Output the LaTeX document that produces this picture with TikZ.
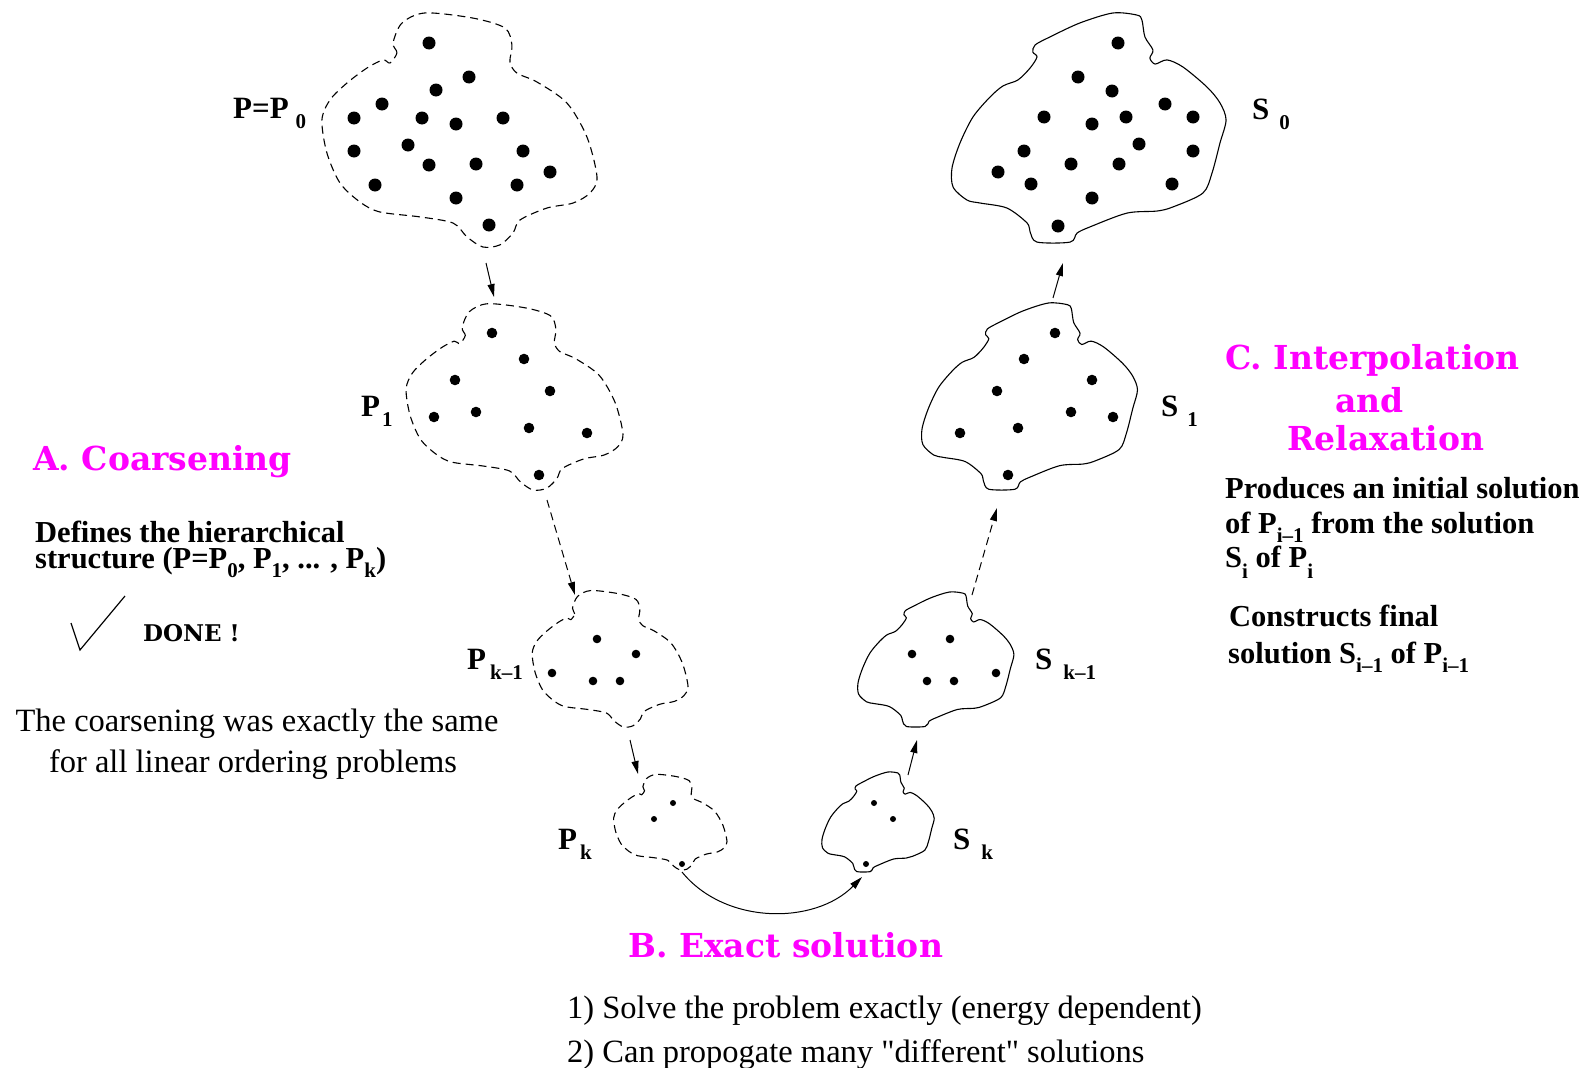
\documentclass[tikz,border=0pt]{standalone}
\usepackage{fontspec}
\setmainfont{Liberation Serif}
\newfontfamily\headfamily{DejaVu Serif}
\usetikzlibrary{arrows.meta}
\definecolor{headmag}{RGB}{255,0,255}

% normalised outline of a problem cluster (unit box, y pointing down)
\newcommand\pshape{plot[smooth cycle, tension=0.5] coordinates {
  (0.258,0.217) (0.283,0.174) (0.269,0.132) (0.301,0.047) (0.384,0.004)
  (0.556,0.026) (0.670,0.068) (0.695,0.140) (0.688,0.213) (0.713,0.260)
  (0.785,0.298) (0.892,0.387) (0.964,0.532) (1.0,0.702) (0.975,0.770)
  (0.914,0.813) (0.821,0.834) (0.724,0.885) (0.699,0.940) (0.652,0.991)
  (0.591,1.0) (0.534,0.957) (0.484,0.898) (0.366,0.872) (0.222,0.851)
  (0.151,0.809) (0.079,0.728) (0.032,0.600) (0.014,0.460) (0.043,0.374)
  (0.104,0.302) (0.176,0.238) (0.233,0.204)}}
% normalised outline of a solution cluster
\newcommand\sshape{plot[smooth cycle, tension=0.5] coordinates {
  (0.0,0.674) (0.029,0.565) (0.076,0.452) (0.138,0.365) (0.185,0.317)
  (0.239,0.291) (0.283,0.239) (0.308,0.191) (0.293,0.170) (0.301,0.139)
  (0.355,0.104) (0.464,0.043) (0.583,0.0) (0.670,0.009) (0.688,0.030)
  (0.699,0.104) (0.728,0.161) (0.717,0.196) (0.736,0.222) (0.779,0.204)
  (0.837,0.235) (0.924,0.322) (0.971,0.391) (0.993,0.465) (0.971,0.565)
  (0.942,0.696) (0.909,0.783) (0.801,0.843) (0.743,0.861) (0.634,0.870)
  (0.5,0.930) (0.453,0.957) (0.428,0.996) (0.308,0.996) (0.283,0.952)
  (0.272,0.913) (0.199,0.848) (0.101,0.826) (0.054,0.813) (0.004,0.757)}}

% level label: main letter, gap, lowered index
\newcommand\lvl[3]{#1\hspace{#2pt}\raisebox{-10pt}{\fontsize{21}{21}\selectfont #3}}
% index inside running text
\newcommand\ix[2][9]{\raisebox{-#1pt}{\fontsize{21}{21}\selectfont #2}}

\begin{document}
\begin{tikzpicture}[x=1pt,y=-1pt,
  blobline/.style={line width=1.1pt, line join=round},
  dashblob/.style={blobline, dash pattern=on 8pt off 5pt},
  arr/.style={line width=1pt, -{Triangle[length=13pt,width=7pt]}},
  dasharr/.style={arr, dash pattern=on 8pt off 5pt},
  lbl/.style={anchor=base west, inner sep=0pt, font=\fontsize{31}{31}\selectfont\bfseries},
  head/.style={anchor=base west, inner sep=0pt, text=headmag, font=\headfamily\bfseries\fontsize{33}{33}\selectfont},
  boldtxt/.style={anchor=base west, inner sep=0pt, font=\fontsize{30.5}{30.5}\selectfont\bfseries},
  plaintxt/.style={inner sep=0pt, font=\fontsize{32.5}{32.5}\selectfont},
]
\useasboundingbox (0,0) rectangle (1588,1068);

% ---------- coarsening side (dashed clusters) ----------
\draw[dashblob, shift={(318,12)}, xscale=279, yscale=235] \pshape;
\draw[dashblob, shift={(403,303)}, xscale=220, yscale=187] \pshape;
\draw[dashblob, shift={(530,590)}, xscale=158, yscale=137] \pshape;
\draw[dashblob, shift={(612,774)}, xscale=115, yscale=96] \pshape;

% ---------- solution side (solid clusters) ----------
\draw[blobline, shift={(952,13)}, xscale=276, yscale=230] \sshape;
\draw[blobline, shift={(922,303)}, xscale=217, yscale=187] \sshape;
\draw[blobline, shift={(858,592)}, xscale=157, yscale=135] \sshape;
\draw[blobline, shift={(822,772)}, xscale=113, yscale=100] \sshape;

% ---------- points ----------
\foreach \p in {(429,43),(469,77),(436,90),(382,104),(354,118),(422,118),
  (456,124),(503,118),(354,151),(408,145),(429,165),(476,164),(523,151),
  (550,172),(375,185),(517,185),(456,198),(489,225),
  (1118,43),(1078,77),(1112,91),(1165,104),(1193,117),(1044,117),
  (1092,124),(1126,117),(1139,144),(1193,151),(1024,151),(1071,164),
  (1119,164),(998,172),(1031,184),(1172,184),(1092,198),(1058,226)}
  \fill \p circle[radius=6.5pt];
\foreach \p in {(492,333),(524,359),(455,380),(550,391),(434,417),(476,412),
  (529,428),(587,433),(539,475),
  (1055,333),(1024,359),(1092,380),(997,391),(1071,412),(1113,417),
  (1018,428),(960,433),(1008,475)}
  \fill \p circle[radius=5.3pt];
\foreach \p in {(597,639),(636,654),(552,673),(593,681),(620,681),
  (950,639),(912,654),(996,673),(927,681),(954,681)}
  \fill \p circle[radius=4.3pt];
\foreach \p in {(673,803),(654,819),(682,864),(874,803),(893,819),(866,864)}
  \fill \p circle[radius=3pt];

% ---------- level labels ----------
\node[lbl] (lp0) at (233,118) {\lvl{P=P}{7}{0}};
\node[lbl] (lp1) at (361,416) {\lvl{P}{2}{1}};
\node[lbl] (lpk1) at (467,669) {\lvl{P}{4}{k--1}};
\node[lbl] (lpk) at (558,849) {\lvl{P}{3}{k}};
\node[lbl] (ls0) at (1252,119) {\lvl{S}{10}{0}};
\node[lbl] (ls1) at (1161,416) {\lvl{S}{9}{1}};
\node[lbl] (lsk1) at (1035,669) {\lvl{S}{11}{k--1}};
\node[lbl] (lsk) at (953,849) {\lvl{S}{11}{k}};

% ---------- arrow end points ----------
\coordinate (p0out) at (486,263);  \coordinate (p1in) at (494,297);
\coordinate (p1out) at (547,500);  \coordinate (pk1in) at (575,595);
\coordinate (pk1out) at (630,740); \coordinate (pkin) at (638,774);
\coordinate (pkout) at (682,872);  \coordinate (skin) at (862,877);
\coordinate (skout) at (908,775);  \coordinate (sk1in) at (917,740);
\coordinate (sk1out) at (972,595); \coordinate (s1in) at (997,508);
\coordinate (s1out) at (1053,298); \coordinate (s0in) at (1063,263);

\draw[arr] (p0out) -- (p1in);
\draw[dasharr] (p1out) -- (pk1in);
\draw[arr] (pk1out) -- (pkin);
\draw[arr] (pkout) .. controls (725,925) and (815,925) .. (skin);
\draw[arr] (skout) -- (sk1in);
\draw[dasharr] (sk1out) -- (s1in);
\draw[arr] (s1out) -- (s0in);

% ---------- A. Coarsening ----------
\node[head] (hA) at (33,470) {A. Coarsening};
\node[boldtxt] (tA1) at (35,542) {Defines the hierarchical};
\node[boldtxt] (tA2) at (35,568) {structure (P=P\ix{0}, P\ix{1}, ... , P\ix{k})};
\draw[line width=1.2pt] (71,623) -- (80,650) -- (125,596);
\node[anchor=base west, inner sep=0pt, font=\headfamily\bfseries\fontsize{23}{23}\selectfont] (done) at (143,641) {DONE !};
\node[plaintxt, anchor=base] (tA3) at (257,731) {The coarsening was exactly the same};
\node[plaintxt, anchor=base] (tA4) at (253,772) {for all linear ordering problems};

% ---------- B. Exact solution ----------
\node[head] (hB) at (628,957) {B. Exact solution};
\node[plaintxt, anchor=base west] (tB1) at (567,1018) {1) Solve the problem exactly (energy dependent)};
\node[plaintxt, anchor=base west] (tB2) at (567,1062) {2) Can propogate many \textquotedbl different\textquotedbl{} solutions};

% ---------- C. Interpolation and Relaxation ----------
\node[head] (hC1) at (1225,369) {C. Interpolation};
\node[head] (hC2) at (1335,412) {and};
\node[head] (hC3) at (1287,450) {Relaxation};
\node[boldtxt] (tC1) at (1225,498) {Produces an initial solution};
\node[boldtxt] (tC2) at (1225,533) {of P\ix{i--1} from the solution};
\node[boldtxt] (tC3) at (1225,567) {S\ix[11]{i} of P\ix[11]{i}};
\node[boldtxt] (tC4) at (1229,626) {Constructs final};
\node[boldtxt] (tC5) at (1228,663) {solution S\ix{i--1} of P\ix{i--1}};
\end{tikzpicture}
\end{document}
